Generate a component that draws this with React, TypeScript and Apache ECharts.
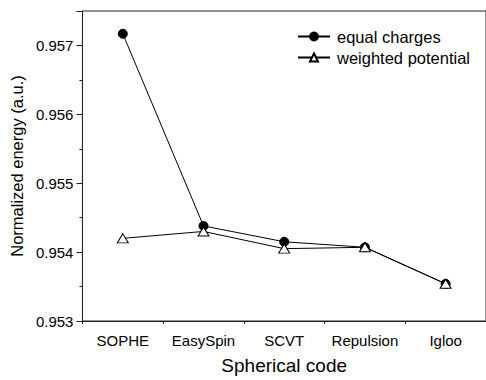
import React, { useEffect, useRef } from "react";
import * as echarts from "echarts";

// Spherical code schemes along the x axis
const categories = ["SOPHE", "EasySpin", "SCVT", "Repulsion", "Igloo"];

// Normalized energy (a.u.) for each scheme
const equalCharges = [0.95717, 0.95438, 0.95415, 0.95407, 0.95354];
const weightedPotential = [0.9542, 0.9543, 0.95405, 0.95407, 0.95354];

const FONT = "'Liberation Sans', Arial, sans-serif";
const INK = "#222";

export default function App() {
  const ref = useRef<HTMLDivElement>(null);

  useEffect(() => {
    if (!ref.current) return;
    const chart = echarts.init(ref.current, undefined, { renderer: "svg" });
    chart.setOption({
      animation: false,
      backgroundColor: "#fff",
      grid: {
        left: 81,
        top: 11,
        width: 410,
        height: 317,
        show: true,
        borderColor: INK,
        borderWidth: 1,
        backgroundColor: "transparent",
      },
      legend: {
        left: 292,
        top: 23,
        orient: "vertical",
        itemWidth: 32,
        itemHeight: 10,
        itemGap: 4,
        selectedMode: false,
        textStyle: { fontFamily: FONT, fontSize: 16.5, color: "#000", padding: [0, 0, 0, 2] },
        data: ["equal charges", "weighted potential"],
      },
      xAxis: [
        {
          type: "category",
          data: categories,
          boundaryGap: true,
          position: "bottom",
          axisLine: { lineStyle: { color: INK, width: 1 } },
          axisTick: { alignWithLabel: true, interval: 0, length: 6, lineStyle: { color: INK } },
          axisLabel: { interval: 0, fontFamily: FONT, fontSize: 15, color: "#000", margin: 12 },
          splitLine: { show: false },
          name: "Spherical code",
          nameLocation: "middle",
          nameGap: 35,
          nameTextStyle: { fontFamily: FONT, fontSize: 19, color: "#000" },
        },
        {
          type: "category",
          data: categories,
          boundaryGap: true,
          position: "bottom",
          axisLine: { show: false },
          axisTick: { show: true, interval: 0, length: 3, lineStyle: { color: INK } },
          axisLabel: { show: false },
          splitLine: { show: false },
        },
      ],
      yAxis: {
        type: "value",
        min: 0.953,
        max: 0.9575,
        interval: 0.001,
        axisLine: { show: true, lineStyle: { color: INK, width: 1 } },
        axisTick: { show: true, length: 6, lineStyle: { color: INK } },
        minorTick: { show: true, splitNumber: 2, length: 3, lineStyle: { color: INK } },
        splitLine: { show: false },
        axisLabel: {
          fontFamily: FONT,
          fontSize: 15,
          color: "#000",
          margin: 9,
          showMaxLabel: false,
          formatter: (v: number) => v.toFixed(3),
        },
        name: "Normalized energy (a.u.)",
        nameLocation: "middle",
        nameGap: 57,
        nameTextStyle: { fontFamily: FONT, fontSize: 16.5, color: "#000" },
      },
      series: [
        {
          name: "equal charges",
          type: "line",
          data: equalCharges,
          xAxisIndex: 0,
          symbol: "circle",
          symbolSize: 9,
          lineStyle: { color: "#000", width: 1 },
          itemStyle: { color: "#000", borderColor: "#000", borderWidth: 1 },
          z: 2,
        },
        {
          name: "weighted potential",
          type: "line",
          data: weightedPotential,
          xAxisIndex: 0,
          symbol: "triangle",
          symbolSize: [11, 9],
          showAllSymbol: true,
          lineStyle: { color: "#000", width: 1 },
          itemStyle: { color: "#fff", borderColor: "#000", borderWidth: 1 },
          z: 3,
        },
      ],
    });
    return () => chart.dispose();
  }, []);

  return <div ref={ref} style={{ width: 486, height: 380, position: "fixed", left: 0, top: 0 }} />;
}
